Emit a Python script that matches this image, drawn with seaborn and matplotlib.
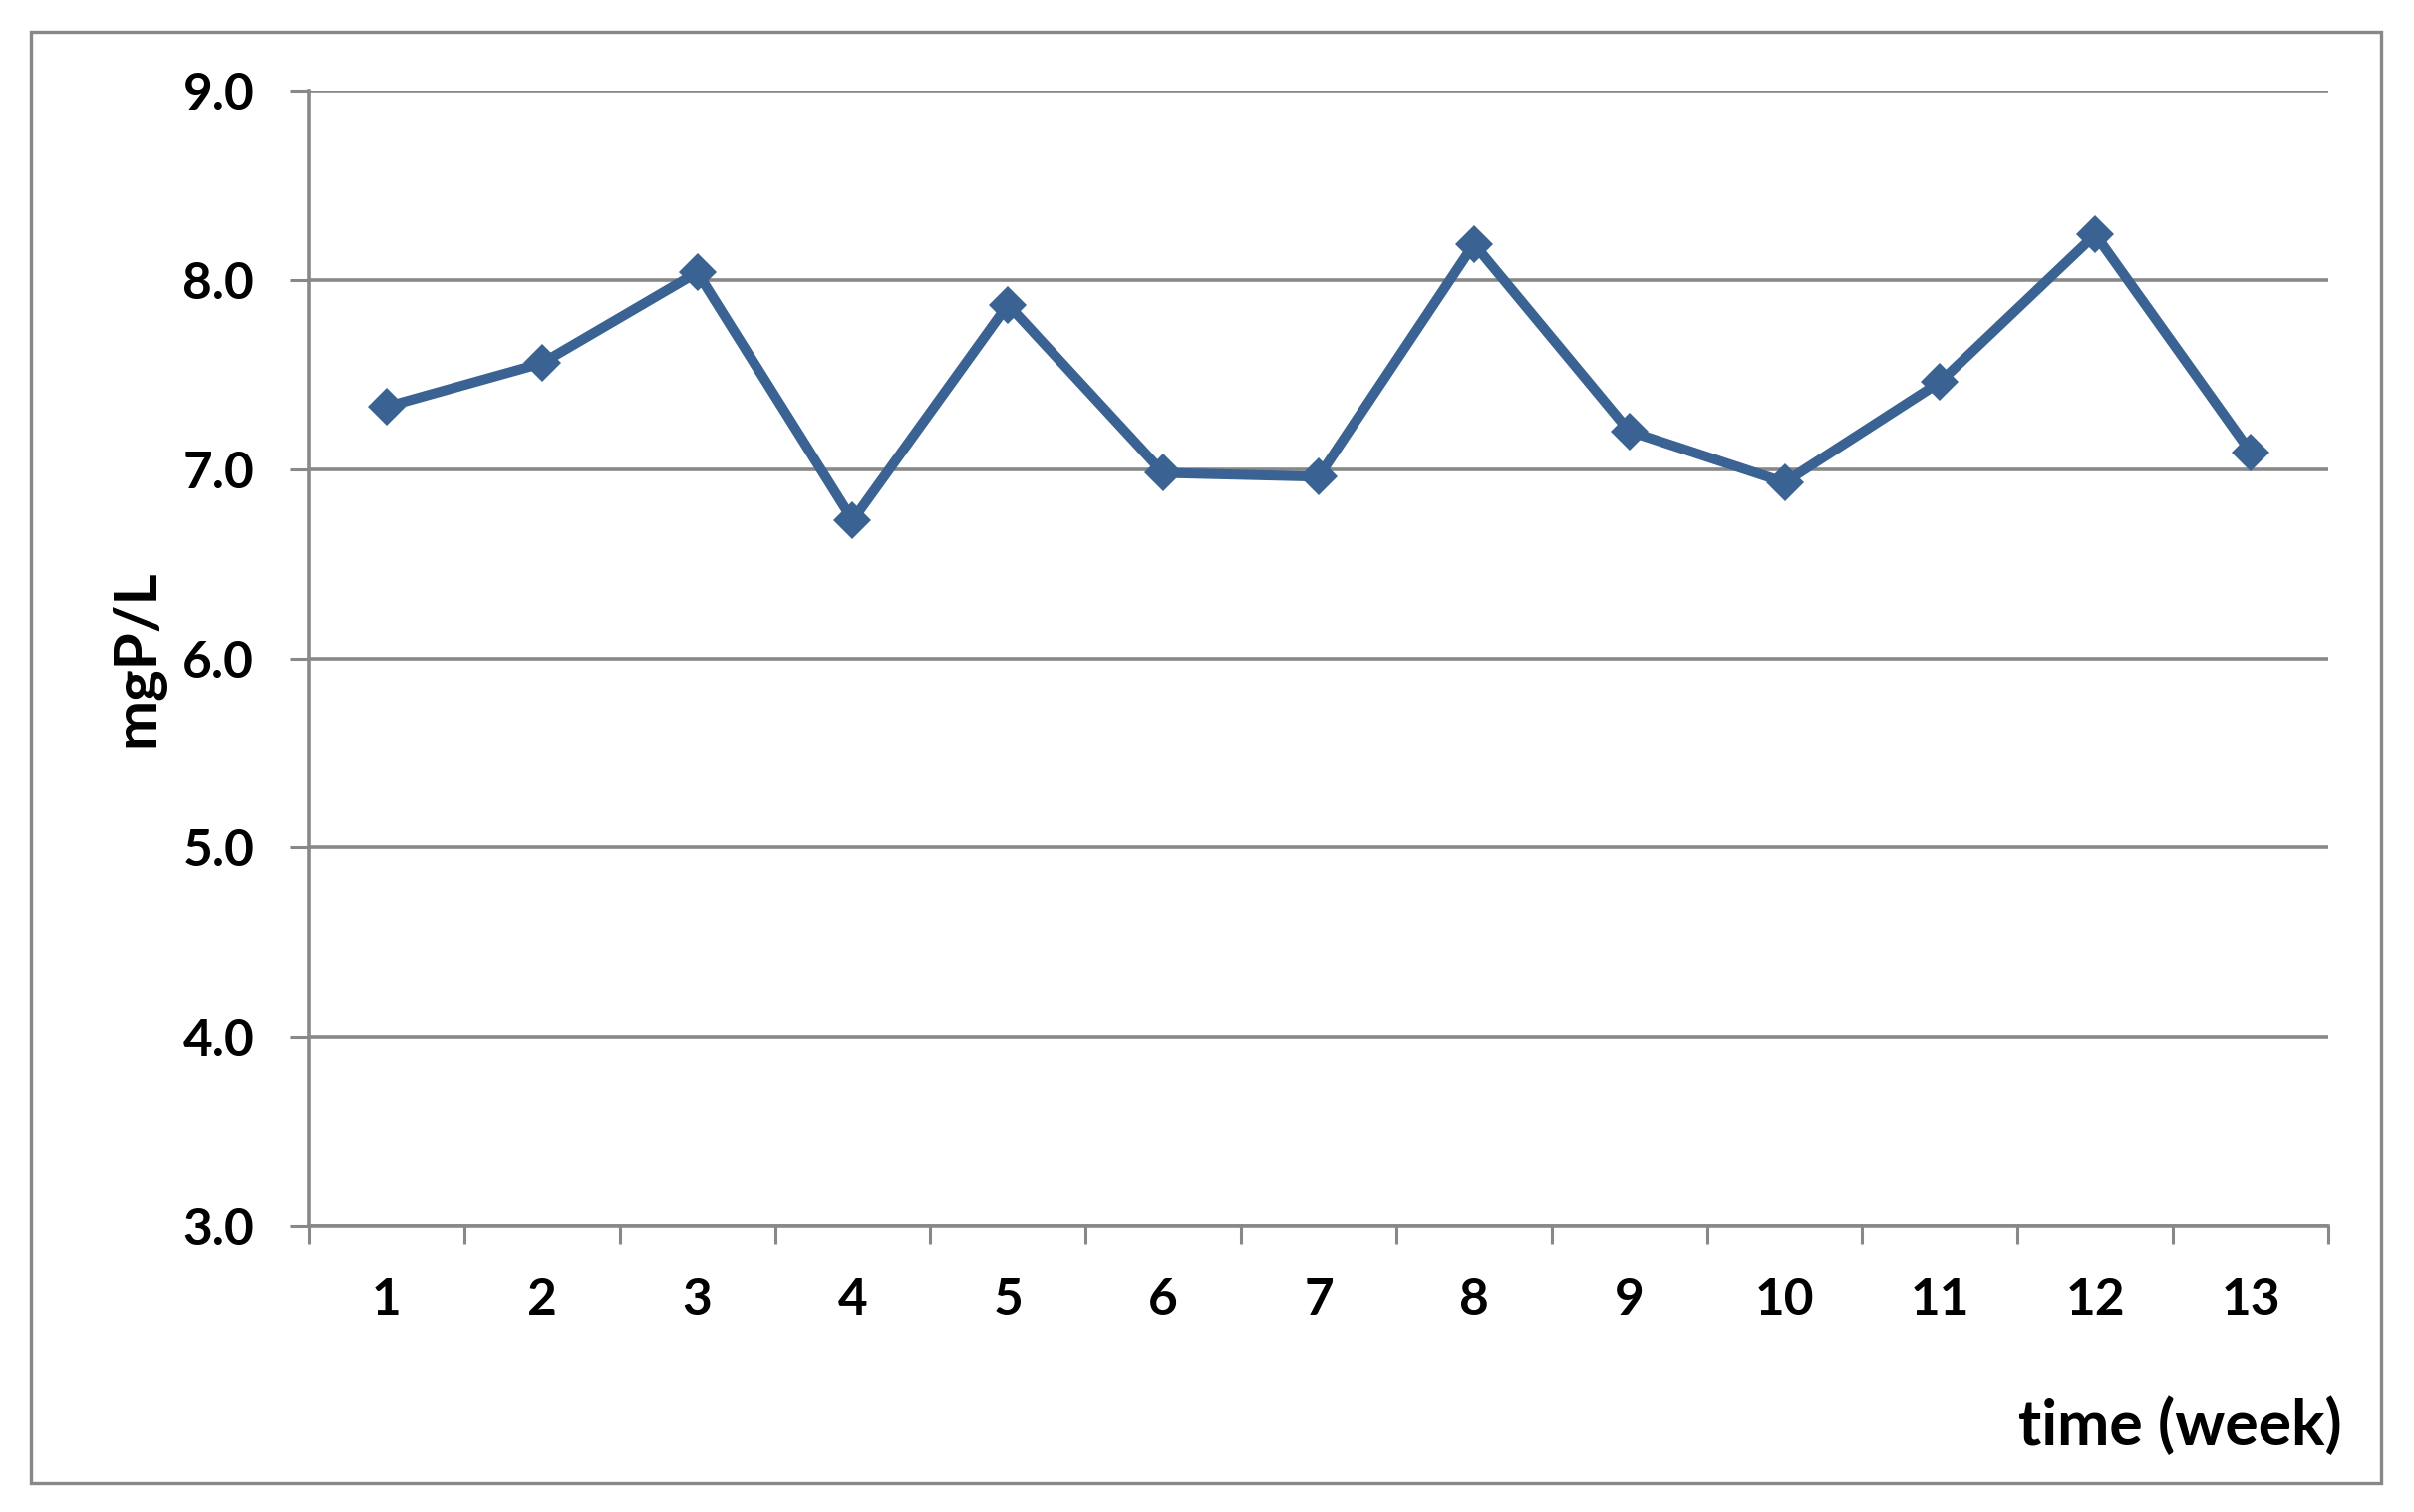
import matplotlib
matplotlib.use("Agg")
import matplotlib.pyplot as plt
import matplotlib.patches as mpatches
from matplotlib.ticker import FixedLocator
import seaborn as sns
import pandas as pd

weeks = [1, 2, 3, 4, 5, 6, 7, 8, 9, 10, 11, 12, 13]
values = [7.33, 7.56, 8.04, 6.73, 7.87, 6.98, 6.96, 8.19, 7.20, 6.93, 7.46, 8.24, 7.09]
y_ticks = [3.0, 4.0, 5.0, 6.0, 7.0, 8.0, 9.0]
x_label = "time (week)"
y_label = "mgP/L"

sns.set_style("white")
plt.rcParams['font.family'] = ['Lato', 'DejaVu Sans']
plt.rcParams['font.weight'] = 'bold'
plt.rcParams['text.color'] = 'black'
plt.rcParams['axes.labelcolor'] = 'black'

W, H, DPI = 2422, 1517, 100
fig = plt.figure(figsize=(W / DPI, H / DPI), dpi=DPI)
ax = fig.add_axes([310 / W, 1 - 1230 / H, (2336 - 310) / W, (1230 - 91) / H])

grey = "#888888"
line_col = "#3A6292"

df = pd.DataFrame({"week": weeks, "value": values})
sns.lineplot(data=df, x="week", y="value", ax=ax, color=line_col, linewidth=7.2,
             marker="D", markersize=19, markeredgewidth=0, zorder=5)

ax.set_xlim(0.5, 13.5)
ax.set_ylim(3.0, 9.0)
ax.set_yticks(y_ticks)
ax.set_yticklabels([f"{v:.1f}" for v in y_ticks])
ax.set_xticks(weeks)
ax.set_xticklabels([str(w) for w in weeks])
ax.xaxis.set_minor_locator(FixedLocator([w - 0.5 for w in weeks] + [13.5]))

ax.grid(axis="y", color=grey, lw=2.6)
ax.grid(axis="x", visible=False)
ax.set_axisbelow(True)

for s in ["top", "right"]:
    ax.spines[s].set_visible(False)
for s in ["left", "bottom"]:
    ax.spines[s].set_color(grey)
    ax.spines[s].set_linewidth(2.6)

ax.tick_params(axis="y", which="major", direction="out", length=13.5, width=2.2,
               color=grey, pad=26, labelsize=37, labelcolor="black", left=True)
ax.tick_params(axis="x", which="major", length=0, pad=37, labelsize=37,
               labelcolor="black", bottom=True)
ax.tick_params(axis="x", which="minor", direction="out", length=13, width=2.2,
               color=grey, bottom=True)
for lab in ax.get_xticklabels() + ax.get_yticklabels():
    lab.set_fontweight("bold")

ax.set_xlabel(x_label, fontsize=45, fontweight="bold", ha="right", color="black")
ax.xaxis.label.set_va("center")
ax.xaxis.set_label_coords(1.007, -0.177)
ax.set_ylabel(y_label, fontsize=43, fontweight="bold", color="black")
ax.yaxis.set_label_coords(-0.0716, 0.5)

frame = mpatches.Rectangle((31 / W, 1 - 1488 / H), (2389 - 31) / W, (1488 - 32) / H,
                           transform=fig.transFigure, fill=False, edgecolor=grey,
                           lw=2.4, zorder=0)
fig.patches.append(frame)

fig.savefig("out.png", dpi=DPI, facecolor="white")
